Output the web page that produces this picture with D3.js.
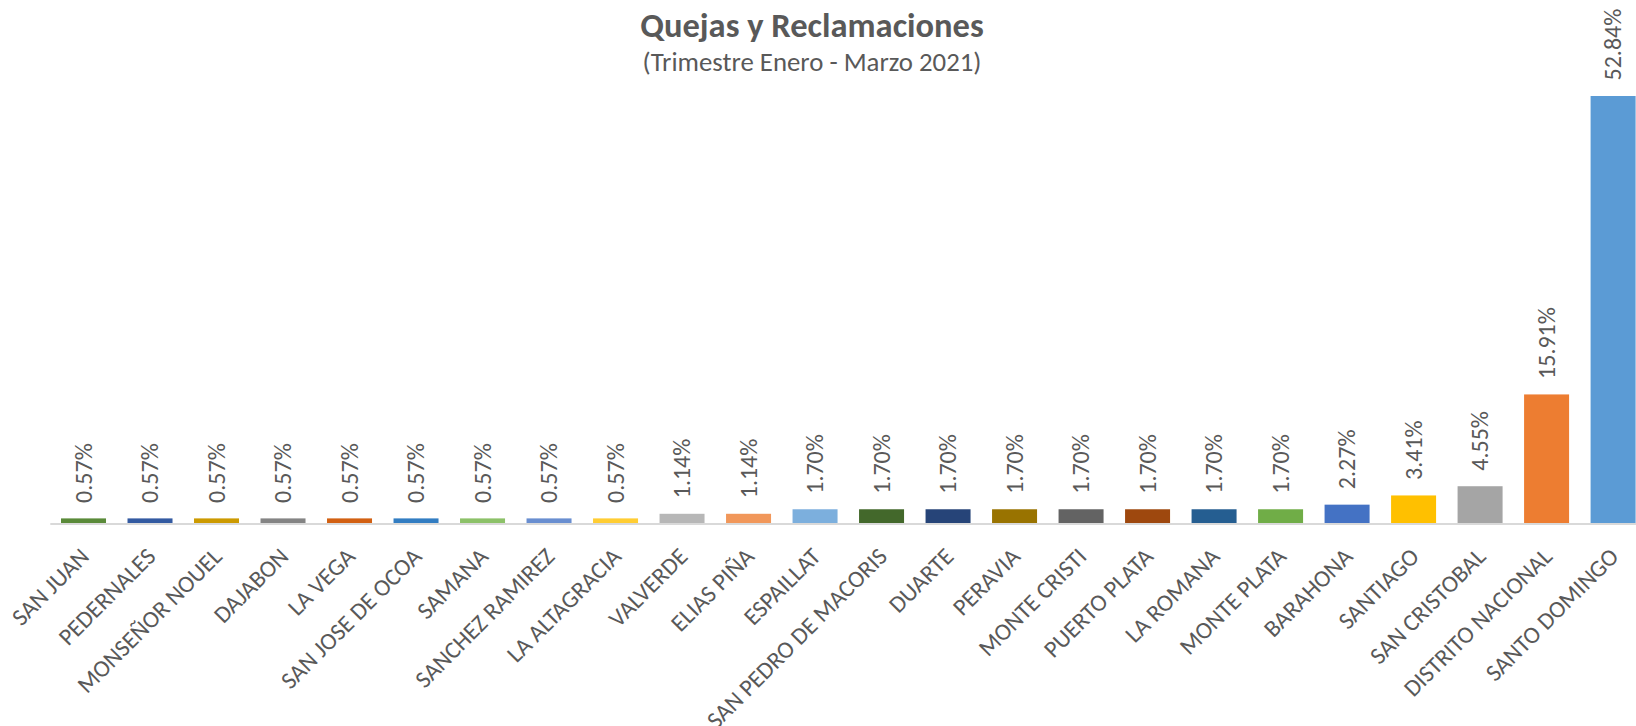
<!DOCTYPE html>
<html>
<head>
<meta charset="utf-8">
<script src="https://cdn.jsdelivr.net/npm/d3@7"></script>
<style>
  html, body { margin: 0; padding: 0; background: #ffffff; }
  svg { display: block; }
  text { font-family: Calibri, Carlito, Lato, sans-serif; fill: #595959; }
</style>
</head>
<body>
<svg id="chart" width="1636" height="726"></svg>
<script>
// Provincias y su participación (%) en quejas y reclamaciones
const provincias = [
  "SAN JUAN", "PEDERNALES", "MONSEÑOR NOUEL", "DAJABON", "LA VEGA",
  "SAN JOSE DE OCOA", "SAMANA", "SANCHEZ RAMIREZ", "LA ALTAGRACIA",
  "VALVERDE", "ELIAS PIÑA", "ESPAILLAT", "SAN PEDRO DE MACORIS", "DUARTE",
  "PERAVIA", "MONTE CRISTI", "PUERTO PLATA", "LA ROMANA", "MONTE PLATA",
  "BARAHONA", "SANTIAGO", "SAN CRISTOBAL", "DISTRITO NACIONAL", "SANTO DOMINGO"
];
const porcentajes = [
  0.57, 0.57, 0.57, 0.57, 0.57,
  0.57, 0.57, 0.57, 0.57,
  1.14, 1.14, 1.70, 1.70, 1.70,
  1.70, 1.70, 1.70, 1.70, 1.70,
  2.27, 3.41, 4.55, 15.91, 52.84
];
const colores = [
  "#5a8a39", "#335aa1", "#cc9a00", "#848484", "#d26012",
  "#327dc2", "#8cc168", "#698ed0", "#ffcd33",
  "#b7b7b7", "#f1975a", "#7cafdd", "#43682b", "#264478",
  "#997300", "#636363", "#9e480e", "#255e91", "#70ad47",
  "#4472c4", "#ffc000", "#a5a5a5", "#ed7d31", "#5b9bd5"
];
const titulo = "Quejas y Reclamaciones";
const subtitulo = "(Trimestre Enero - Marzo 2021)";

const data = provincias.map((p, i) => ({ provincia: p, valor: porcentajes[i], color: colores[i] }));

const svg = d3.select("#chart");
const baseY = 523;
const left = 50.3, step = 66.5;

const x = d3.scaleBand()
  .domain(provincias)
  .range([left, left + step * 24])
  .paddingInner(0.3233)
  .paddingOuter(0.161);

const y = d3.scaleLinear()
  .domain([0, 60])
  .range([baseY, baseY - 60 * 8.081]);

// Títulos
svg.append("text")
  .attr("x", 812).attr("y", 37)
  .attr("text-anchor", "middle")
  .style("font-size", "34.5px").style("font-weight", "bold")
  .text(titulo);

svg.append("text")
  .attr("x", 812).attr("y", 70.5)
  .attr("text-anchor", "middle")
  .style("font-size", "26.8px")
  .text(subtitulo);

// Barras
svg.append("g").selectAll("rect")
  .data(data)
  .join("rect")
  .attr("x", d => x(d.provincia))
  .attr("width", x.bandwidth())
  .attr("y", d => y(d.valor))
  .attr("height", d => y(0) - y(d.valor))
  .attr("fill", d => d.color);

// Eje horizontal
svg.append("line")
  .attr("x1", left).attr("x2", left + step * 24)
  .attr("y1", baseY + 1).attr("y2", baseY + 1)
  .attr("stroke", "#d9d9d9").attr("stroke-width", 2);

// Etiquetas de valor
svg.append("g").selectAll("text")
  .data(data)
  .join("text")
  .attr("transform", d => `translate(${x(d.provincia) + x.bandwidth() / 2},${y(d.valor) - 15.5}) rotate(-90)`)
  .attr("dy", "0.35em")
  .attr("text-anchor", "start")
  .style("font-size", "24px")
  .text(d => d.valor.toFixed(2) + "%");

// Etiquetas de categoría
svg.append("g").selectAll("text")
  .data(data)
  .join("text")
  .attr("transform", d => `translate(${x(d.provincia) + x.bandwidth() / 2 + 1},${baseY + 29}) rotate(-45)`)
  .attr("dy", "0.35em")
  .attr("text-anchor", "end")
  .style("font-size", "24px")
  .text(d => d.provincia);
</script>
</body>
</html>
